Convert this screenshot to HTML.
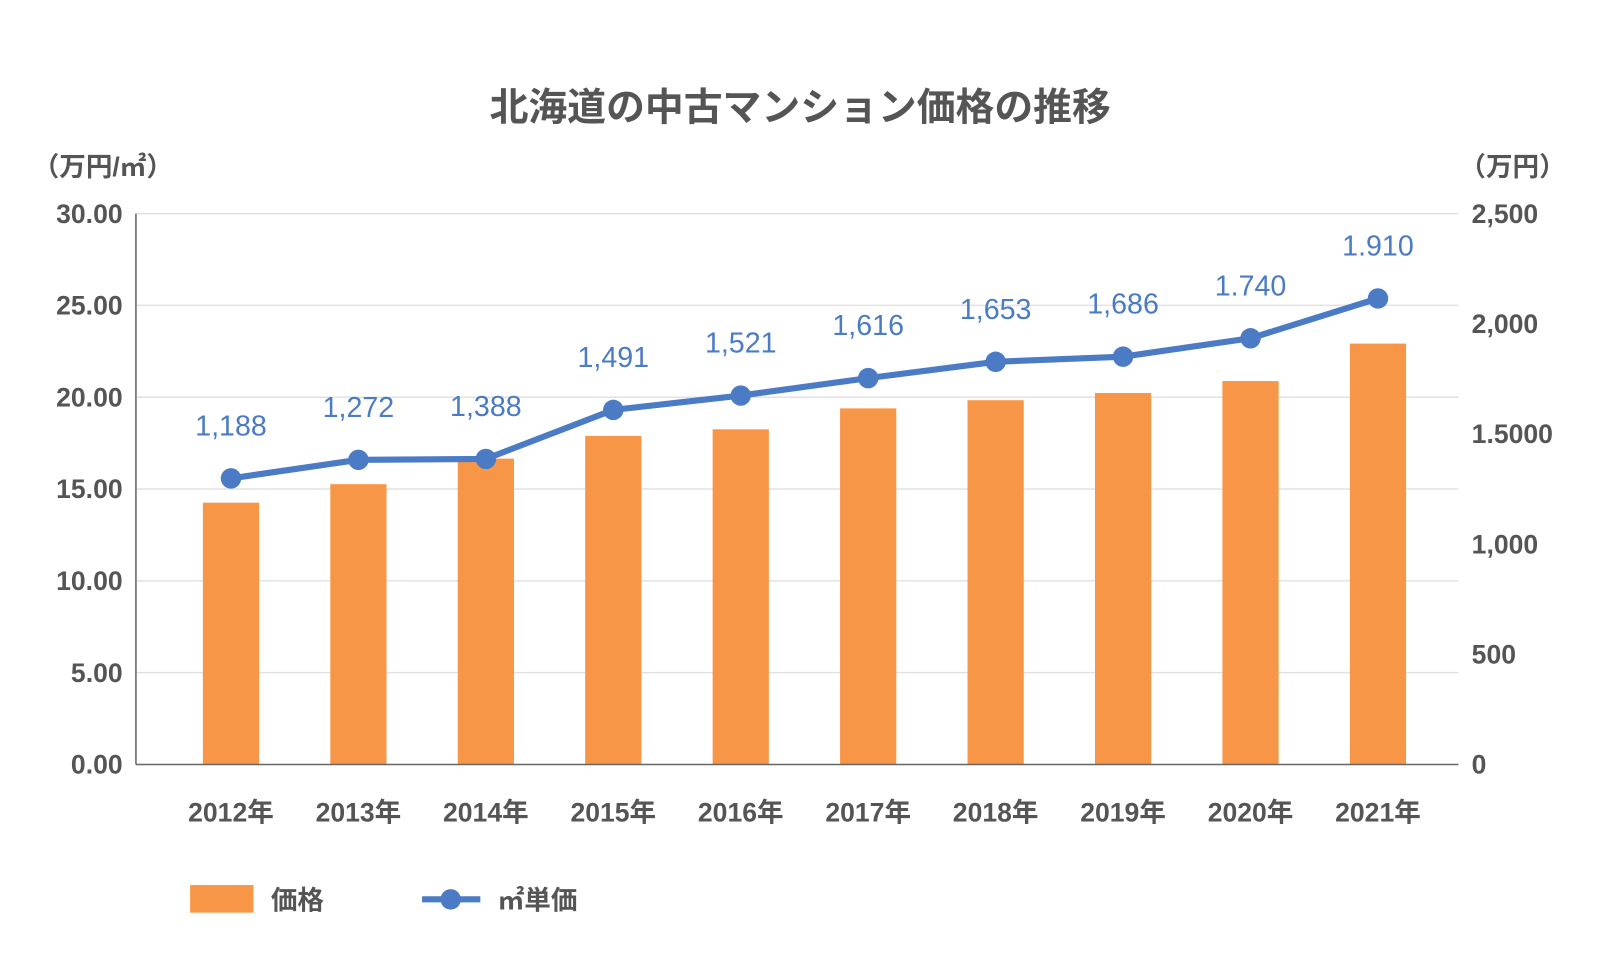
<!DOCTYPE html>
<html><head><meta charset="utf-8">
<style>
html,body{margin:0;padding:0;background:#fff;}
svg{display:block;font-family:"Liberation Sans","Noto Sans CJK JP",sans-serif;}
</style></head>
<body>
<svg id="chart" width="1601" height="970" viewBox="0 0 1601 970" xmlns="http://www.w3.org/2000/svg">
<rect x="0" y="0" width="1601" height="970" fill="#fff"/>
<g transform="scale(1.022)">
<text x="783" y="118" text-anchor="middle" font-size="38" font-weight="bold" fill="#555">北海道の中古マンション価格の推移</text>
<text x="32" y="172" font-size="26" font-weight="bold" fill="#555">（万円/㎡）</text>
<text x="1428" y="172" font-size="26" font-weight="bold" fill="#555">（万円）</text>
<g id="grid"></g>
<g id="bars"></g>
<g id="line"></g>
<g id="axes"></g>
<g id="legend">
<rect x="186" y="866" width="62" height="27" fill="#f79646"/>
<text x="265" y="890" font-size="26" font-weight="bold" fill="#555">価格</text>
<line x1="413" y1="880" x2="470" y2="880" stroke="#4a7bc4" stroke-width="6"/>
<circle cx="441" cy="880" r="10" fill="#4a7bc4"/>
<text x="487" y="890" font-size="26" font-weight="bold" fill="#555">㎡単価</text>
</g>
</g>
</svg>
<script>
const categories = ["2012年","2013年","2014年","2015年","2016年","2017年","2018年","2019年","2020年","2021年"];
const priceValues = [1188,1272,1388,1491,1521,1616,1653,1686,1740,1910];
const priceLabels = ["1,188","1,272","1,388","1,491","1,521","1,616","1,653","1,686","1.740","1.910"];
const unitPriceValues = [15.58,16.59,16.64,19.31,20.09,21.04,21.93,22.21,23.21,25.38];
const leftTicks = [0,5,10,15,20,25,30];
const leftTickLabels = ["0.00","5.00","10.00","15.00","20.00","25.00","30.00"];
const rightTicks = [0,500,1000,1500,2000,2500];
const rightTickLabels = ["0","500","1,000","1.5000","2,000","2,500"];

const NS="http://www.w3.org/2000/svg";
const plotL=133, plotR=1427, plotT=209, plotB=748;
function yLeft(v){return plotB-(v/30)*(plotB-plotT);}
function yRight(v){return plotB-(v/2500)*(plotB-plotT);}
function xCenter(i){return 226+i*124.7;}
function mk(tag,attrs,parent,text){const e=document.createElementNS(NS,tag);for(const k in attrs)e.setAttribute(k,attrs[k]);if(text!==undefined)e.textContent=text;parent.appendChild(e);return e;}

const grid=document.getElementById('grid'), axes=document.getElementById('axes');
leftTicks.forEach((t,i)=>{
  const y=yLeft(t);
  if(t>0){const g=mk('line',{x1:plotL,x2:plotR,y1:y,y2:y,stroke:'#e2e2e2','stroke-width':1.5},grid);
  
  }
  const tx=mk('text',{x:120,y:y+9,'text-anchor':'end','font-size':26,'font-weight':'bold',fill:'#555'},axes,leftTickLabels[i]);
  
  
});
rightTicks.forEach((t,i)=>{
  const tx=mk('text',{x:1440,y:yRight(t)+9,'font-size':26,'font-weight':'bold',fill:'#555'},axes,rightTickLabels[i]);
  
  
});
const ax1=mk('line',{x1:plotL,x2:plotL,y1:plotT,y2:plotB,stroke:'#666','stroke-width':1.5},axes);


const ax2=mk('line',{x1:plotL,x2:plotR,y1:plotB,y2:plotB,stroke:'#666','stroke-width':1.5},axes);


categories.forEach((c,i)=>{
  const tx=mk('text',{x:xCenter(i),y:804,'text-anchor':'middle','font-size':26,'font-weight':'bold',fill:'#555'},axes,c);
  
  
});
const bars=document.getElementById('bars');
priceValues.forEach((v,i)=>{
  const y=yRight(v);
  const r=mk('rect',{x:xCenter(i)-27.5,y:y,width:55,height:plotB-y,fill:'#f79646'},bars);
  
  
});
const line=document.getElementById('line');
const pts=unitPriceValues.map((v,i)=>[xCenter(i),yLeft(v)]);
const pl=mk('polyline',{points:pts.map(p=>p.join(',')).join(' '),fill:'none',stroke:'#4a7bc4','stroke-width':6,'stroke-linejoin':'round'},line);


pts.forEach((p,i)=>{
  const c=mk('circle',{cx:p[0],cy:p[1],r:10,fill:'#4a7bc4'},line);
  
  
  const t=mk('text',{x:p[0],y:p[1]-42,'text-anchor':'middle','font-size':28,fill:'#4a7bc4'},line,priceLabels[i]);
  
  
});
</script>
</body></html>
